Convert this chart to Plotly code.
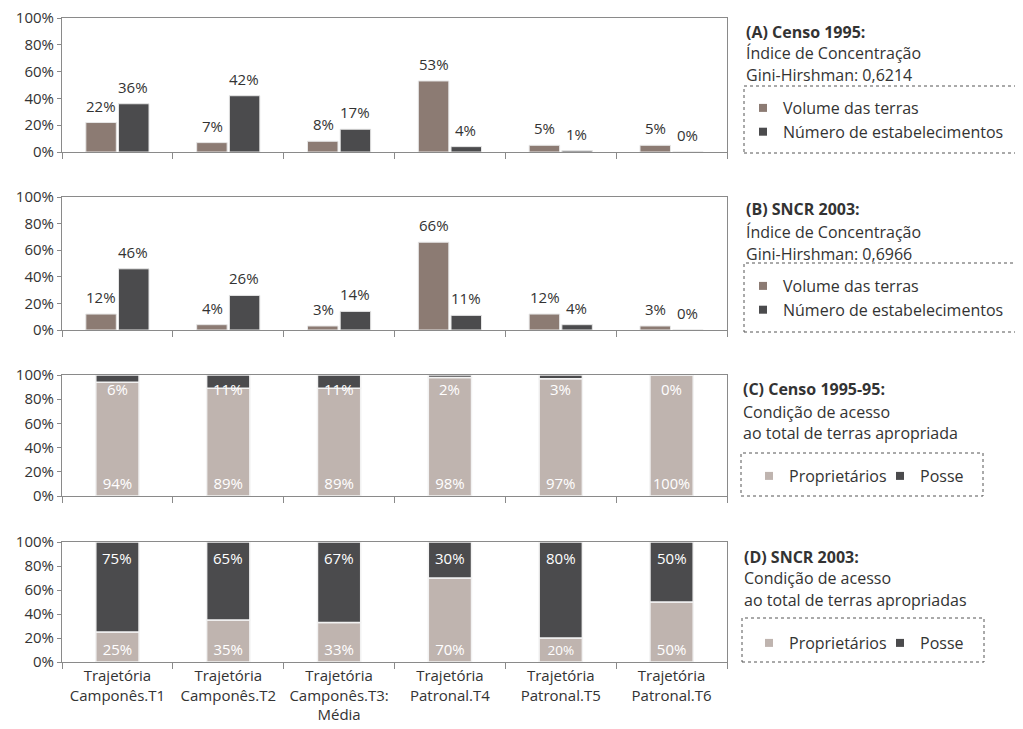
import plotly.graph_objects as go

# ---------------- data ----------------
categories = [
    "Trajetória<br>Camponês.T1",
    "Trajetória<br>Camponês.T2",
    "Trajetória<br>Camponês.T3:<br>Média",
    "Trajetória<br>Patronal.T4",
    "Trajetória<br>Patronal.T5",
    "Trajetória<br>Patronal.T6",
]
a_volume = [22, 7, 8, 53, 5, 5]
a_numero = [36, 42, 17, 4, 1, 0]
b_volume = [12, 4, 3, 66, 12, 3]
b_numero = [46, 26, 14, 11, 4, 0]
c_proprietarios = [94, 89, 89, 98, 97, 100]
c_posse = [6, 11, 11, 2, 3, 0]
d_proprietarios = [25, 35, 33, 70, 20, 50]
d_posse = [75, 65, 67, 30, 80, 50]
y_ticks = [0, 20, 40, 60, 80, 100]
y_tick_labels = ["0%", "20%", "40%", "60%", "80%", "100%"]

series_names_ab = ["Volume das terras", "Número de estabelecimentos"]
series_names_cd = ["Proprietários", "Posse"]
panel_titles = [
    ["<b>(A) Censo 1995:</b>", "Índice de Concentração", "Gini-Hirshman: 0,6214"],
    ["<b>(B) SNCR 2003:</b>", "Índice de Concentração", "Gini-Hirshman: 0,6966"],
    ["<b>(C) Censo 1995-95:</b>", "Condição de acesso", "ao total de terras apropriada"],
    ["<b>(D) SNCR 2003:</b>", "Condição de acesso", "ao total de terras apropriadas"],
]

# ---------------- style ----------------
PAGE_W, PAGE_H = 1023, 729
OFF = 8                      # default page body margin
W, H = PAGE_W - OFF, PAGE_H - OFF
L, R, T, B = 62, 727, 18, 662  # plot area in page pixels
BROWN = "#8c7b73"
DARK = "#4b4b4d"
LIGHT = "#bfb4af"
AXC = "#8a8a8a"
TXT = "#333333"
FONT = "Open Sans"


def px2x(px):
    return (px - L) / (R - L)


def px2y(py):
    return (B - py) / (B - T)


def pct(vals):
    return ["%d%%" % v for v in vals]


domains = [
    [px2y(152), px2y(18)],
    [px2y(330), px2y(197)],
    [px2y(496), px2y(375)],
    [px2y(662), px2y(542)],
]

fig = go.Figure()
annotations = []

# grouped panels A, B
for i, (vol, num) in enumerate([(a_volume, a_numero), (b_volume, b_numero)]):
    xa = "x" if i == 0 else "x%d" % (i + 1)
    ya = "y" if i == 0 else "y%d" % (i + 1)
    for vals, color, off, shift in [(vol, BROWN, -0.285, -16), (num, DARK, 0.01, 16)]:
        fig.add_trace(go.Bar(
            x=categories, y=vals, xaxis=xa, yaxis=ya,
            marker=dict(color=color, line=dict(color="#e6e6e6", width=1)),
            width=0.275, offset=off, showlegend=False, hoverinfo="skip",
        ))
        for c, v, t in zip(categories, vals, pct(vals)):
            annotations.append(dict(
                x=c, y=v, xref=xa, yref=ya, text=t, showarrow=False,
                xanchor="center", yanchor="bottom", xshift=shift, yshift=5,
                font=dict(family=FONT, size=15, color=TXT),
            ))

# stacked panels C, D
for i, (prop, pos) in enumerate([(c_proprietarios, c_posse), (d_proprietarios, d_posse)]):
    k = i + 3
    xa = "x%d" % k
    ya = "y%d" % k
    fig.add_trace(go.Bar(
        x=categories, y=prop, xaxis=xa, yaxis=ya,
        marker=dict(color=LIGHT, line=dict(color="#f2f2f2", width=1.5)),
        width=0.39, offset=-0.195, showlegend=False, hoverinfo="skip",
        text=pct(prop), textposition="inside", insidetextanchor="start",
        textangle=0, textfont=dict(family=FONT, size=15, color="white"),
    ))
    fig.add_trace(go.Bar(
        x=categories, y=pos, base=prop, xaxis=xa, yaxis=ya,
        marker=dict(color=DARK, line=dict(color="#f2f2f2", width=1.5)),
        width=0.39, offset=-0.195, showlegend=False, hoverinfo="skip",
    ))
    for c, p, q, t in zip(categories, prop, pos, pct(pos)):
        annotations.append(dict(
            x=c, y=p + q, xref=xa, yref=ya, text=t, showarrow=False,
            xanchor="center", yanchor="top", yshift=-2 if i == 0 else -4,
            font=dict(family=FONT, size=15, color="white"),
        ))

# legend-only entries
legend_specs = [
    ("legend", series_names_ab, [BROWN, DARK], "x", "y"),
    ("legend2", series_names_ab, [BROWN, DARK], "x2", "y2"),
    ("legend3", series_names_cd, [LIGHT, DARK], "x3", "y3"),
    ("legend4", series_names_cd, [LIGHT, DARK], "x4", "y4"),
]
for lg, names, colors, xa, ya in legend_specs:
    for n, col in zip(names, colors):
        fig.add_trace(go.Scatter(
            x=[None], y=[None], xaxis=xa, yaxis=ya, mode="markers",
            marker=dict(symbol="square", size=8, color=col),
            name=n, legend=lg, showlegend=True, hoverinfo="skip",
        ))

# right-side text
title_y = [[32, 53, 75], [209, 232, 254], [389, 412, 433], [557, 578, 600]]
title_x = [744, 744, 741, 742]
for lines, ys, xp in zip(panel_titles, title_y, title_x):
    for txt, yy in zip(lines, ys):
        annotations.append(dict(
            x=px2x(xp), y=px2y(yy), xref="paper", yref="paper", text=txt,
            showarrow=False, xanchor="left", yanchor="middle",
            font=dict(family=FONT, size=16, color=TXT),
        ))

# dotted legend boxes
boxes = [(744, 86, 1021, 153), (744, 263, 1021, 332), (741, 453, 983, 496), (742, 618, 984, 662)]
shapes = []
for x0, y0, x1, y1 in boxes:
    shapes.append(dict(
        type="rect", xref="paper", yref="paper",
        x0=px2x(x0), x1=px2x(x1), y0=px2y(y1), y1=px2y(y0),
        line=dict(color="#555555", width=1, dash="dot"), layer="above",
    ))

layout = dict(
    width=W, height=H,
    margin=dict(l=L - OFF, r=PAGE_W - R, t=T - OFF, b=PAGE_H - B, pad=0, autoexpand=False),
    paper_bgcolor="white", plot_bgcolor="white",
    barmode="overlay",
    font=dict(family=FONT, size=15, color=TXT),
    annotations=annotations, shapes=shapes,
)
for i, dom in enumerate(domains):
    n = "" if i == 0 else str(i + 1)
    layout["xaxis" + n] = dict(
        domain=[0, 1], anchor="y" + n, type="category",
        showline=True, linecolor=AXC, linewidth=1, mirror=True,
        showgrid=False, zeroline=False,
        ticks="outside", tickson="boundaries", ticklen=6, tickcolor=AXC,
        showticklabels=(i == 3), tickfont=dict(family=FONT, size=15, color=TXT),
        fixedrange=True, automargin=False, ticklabeloverflow="allow",
    )
    layout["yaxis" + n] = dict(
        domain=dom, anchor="x" + n, range=[0, 100],
        tickmode="array", tickvals=y_ticks, ticktext=y_tick_labels,
        ticks="outside", ticklen=4, tickcolor=AXC,
        showline=True, linecolor=AXC, linewidth=1, mirror=True,
        showgrid=False, zeroline=False,
        tickfont=dict(family=FONT, size=15, color=TXT), fixedrange=True,
        automargin=False, ticklabeloverflow="allow",
    )

leg_common = dict(font=dict(family=FONT, size=16, color=TXT), bgcolor="rgba(0,0,0,0)",
                  borderwidth=0, xanchor="left", itemclick=False, itemdoubleclick=False)
layout["legend"] = dict(x=px2x(743), y=px2y(91), yanchor="top", orientation="v", **leg_common)
layout["legend2"] = dict(x=px2x(743), y=px2y(269), yanchor="top", orientation="v", **leg_common)
layout["legend3"] = dict(x=px2x(749), y=px2y(476), yanchor="middle", orientation="h",
                         entrywidth=86, **leg_common)
layout["legend4"] = dict(x=px2x(749), y=px2y(643), yanchor="middle", orientation="h",
                         entrywidth=86, **leg_common)

fig.update_layout(**layout)
fig.write_html("out.html")
